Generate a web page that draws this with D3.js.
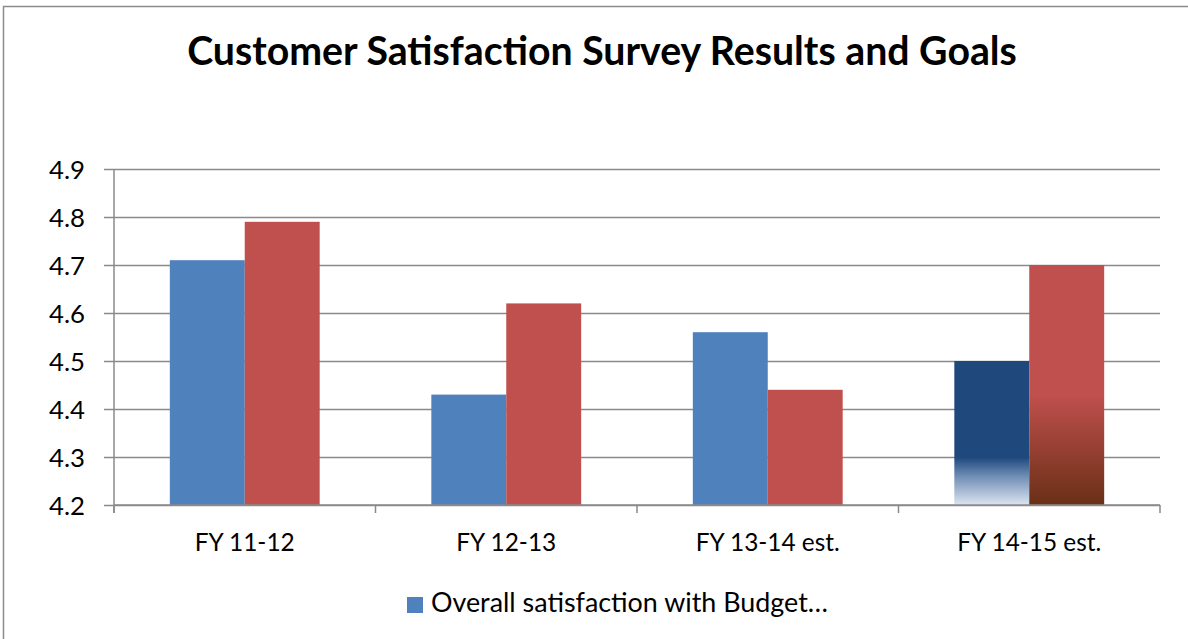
<!DOCTYPE html>
<html>
<head>
<meta charset="utf-8">
<script src="https://cdnjs.cloudflare.com/ajax/libs/d3/7.8.5/d3.min.js"></script>
<style>
	body { margin: 0; background: #fff; }
	svg { display: block; }
	svg text { font-family: Lato, "Open Sans", sans-serif; }
</style>
</head>
<body>
<div id="chart"></div>
<script>
// data
var categories = ["FY 11-12", "FY 12-13", "FY 13-14 est.", "FY 14-15 est."];
var actualValues = [4.71, 4.43, 4.56, 4.50];
var goalValues = [4.79, 4.62, 4.44, 4.70];
var yTicks = [4.2, 4.3, 4.4, 4.5, 4.6, 4.7, 4.8, 4.9];
var legendLabel = "Overall satisfaction with Budget\u2026";
var titleText = "Customer Satisfaction Survey Results and Goals";

var width = 1188,
	height = 639,
	plot = { left: 114, right: 1160, top: 169, bottom: 505 };

var svg = d3.select("#chart")
	.append("svg")
	.attr("width", width)
	.attr("height", height);

// scale a text selection's font so that its first node is about `target` px wide
function fitWidth(sel, target) {
	var node = sel.node();
	var base = parseFloat(sel.attr("font-size"));
	var w = node.getComputedTextLength();
	if (w > 0) {
		sel.attr("font-size", (base * target / w).toFixed(2) + "px");
	}
	return base * target / w;
}

// outer chart border (runs off the right and bottom edges)
svg.append("rect")
	.attr("x", 3.5)
	.attr("y", 6.5)
	.attr("width", width + 10)
	.attr("height", height + 10)
	.attr("fill", "#fff")
	.attr("stroke", "#8c8c8c")
	.attr("stroke-width", 1.5);

// gradients for the last pair of bars
var defs = svg.append("defs");
var blueGrad = defs.append("linearGradient")
	.attr("id", "blueFade")
	.attr("x1", 0).attr("y1", 0).attr("x2", 0).attr("y2", 1);
blueGrad.append("stop").attr("offset", "0").attr("stop-color", "#1f497d");
blueGrad.append("stop").attr("offset", "0.67").attr("stop-color", "#1f497d");
blueGrad.append("stop").attr("offset", "0.8").attr("stop-color", "#6f8db5");
blueGrad.append("stop").attr("offset", "1").attr("stop-color", "#dde4f1");
var redGrad = defs.append("linearGradient")
	.attr("id", "redFade")
	.attr("x1", 0).attr("y1", 0).attr("x2", 0).attr("y2", 1);
redGrad.append("stop").attr("offset", "0").attr("stop-color", "#c0504d");
redGrad.append("stop").attr("offset", "0.54").attr("stop-color", "#c0504d");
redGrad.append("stop").attr("offset", "1").attr("stop-color", "#6a2f16");

var x = d3.scaleBand()
	.domain(categories)
	.range([plot.left, plot.right]);
var x1 = d3.scaleBand()
	.domain(["actual", "goal"])
	.range([0, x.bandwidth()])
	.paddingOuter(0.745);
var y = d3.scaleLinear()
	.domain([4.2, 4.9])
	.range([plot.bottom, plot.top]);

// gridlines + left axis ticks
var yAxis = d3.axisLeft(y)
	.tickValues(yTicks)
	.tickFormat(d3.format(".1f"))
	.tickSizeInner(-(plot.right - plot.left))
	.tickSizeOuter(0)
	.tickPadding(19);
var gy = svg.append("g")
	.attr("transform", "translate(" + plot.left + ",0)")
	.call(yAxis)
	.attr("font-family", null)
	.attr("font-size", null);
gy.select(".domain").remove();
gy.selectAll(".tick line")
	.attr("x1", -10)
	.attr("stroke", "#8a8a8a")
	.attr("stroke-width", 1.5);
var tickTexts = gy.selectAll(".tick text")
	.attr("fill", "#000")
	.attr("font-size", "25px")
	.attr("x", -29)
	.attr("dy", "0.35em");
var tickSize = fitWidth(gy.select(".tick:last-of-type text"), 36);
tickTexts.attr("font-size", tickSize.toFixed(2) + "px");

// bars
var rows = categories.map(function(c, i) {
	return [
		{ cat: c, key: "actual", value: actualValues[i], i: i },
		{ cat: c, key: "goal", value: goalValues[i], i: i }
	];
});
svg.append("g")
	.selectAll("g")
	.data(rows)
	.enter()
	.append("g")
	.attr("transform", function(d) {
		return "translate(" + x(d[0].cat) + ",0)";
	})
	.selectAll("rect")
	.data(function(d) { return d; })
	.enter()
	.append("rect")
	.attr("x", function(d) { return x1(d.key); })
	.attr("width", x1.bandwidth())
	.attr("y", function(d) { return y(d.value); })
	.attr("height", function(d) { return y(4.2) - y(d.value); })
	.attr("fill", function(d) {
		if (d.i === 3) {
			return d.key === "actual" ? "url(#blueFade)" : "url(#redFade)";
		}
		return d.key === "actual" ? "#4f81bd" : "#c0504d";
	});

// left axis line
svg.append("line")
	.attr("x1", plot.left).attr("x2", plot.left)
	.attr("y1", plot.top).attr("y2", plot.bottom + 8)
	.attr("stroke", "#8a8a8a")
	.attr("stroke-width", 1.5);

// bottom axis with category boundary ticks
svg.append("line")
	.attr("x1", plot.left).attr("x2", plot.right)
	.attr("y1", plot.bottom).attr("y2", plot.bottom)
	.attr("stroke", "#8a8a8a")
	.attr("stroke-width", 1.5);
svg.append("g")
	.selectAll("line")
	.data(categories.concat(["end"]))
	.enter()
	.append("line")
	.attr("x1", function(d, i) { return plot.left + i * x.step(); })
	.attr("x2", function(d, i) { return plot.left + i * x.step(); })
	.attr("y1", plot.bottom)
	.attr("y2", plot.bottom + 8)
	.attr("stroke", "#8a8a8a")
	.attr("stroke-width", 1.5);

var catLabels = svg.append("g")
	.selectAll("text")
	.data(categories)
	.enter()
	.append("text")
	.attr("x", function(d) { return x(d) + x.bandwidth() / 2; })
	.attr("y", 551)
	.attr("text-anchor", "middle")
	.attr("font-size", "24px")
	.attr("fill", "#000")
	.text(function(d) { return d; });
var catSize = fitWidth(d3.select(catLabels.nodes()[0]), 100);
catLabels.attr("font-size", catSize.toFixed(2) + "px");

// title
var title = svg.append("text")
	.attr("x", 602)
	.attr("y", 65)
	.attr("text-anchor", "middle")
	.attr("font-size", "35px")
	.attr("font-weight", "bold")
	.attr("fill", "#000")
	.text(titleText);
fitWidth(title, 830);

// legend (only the first series shows)
svg.append("rect")
	.attr("x", 407)
	.attr("y", 597)
	.attr("width", 16)
	.attr("height", 16)
	.attr("fill", "#4f81bd");
var legendText = svg.append("text")
	.attr("x", 431)
	.attr("y", 612)
	.attr("font-size", "24px")
	.attr("fill", "#000")
	.text(legendLabel);
fitWidth(legendText, 397);
</script>
</body>
</html>
